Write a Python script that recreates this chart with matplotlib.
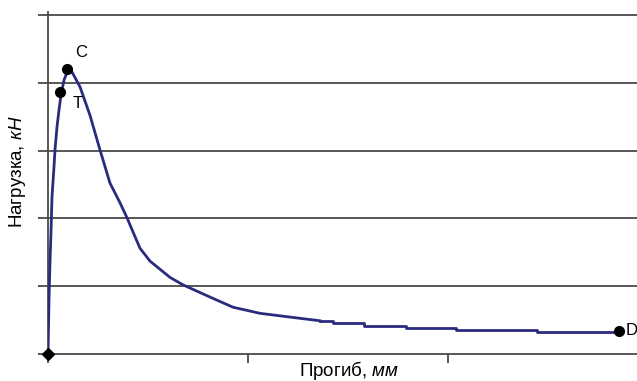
import matplotlib.pyplot as plt

plt.rcParams['font.family'] = ['Liberation Sans', 'DejaVu Sans']
plt.rcParams['mathtext.fontset'] = 'custom'
plt.rcParams['mathtext.rm'] = 'Liberation Sans'
plt.rcParams['mathtext.it'] = 'Liberation Sans:italic'

# кривая нагрузка-прогиб
curve_x = [0.0, 0.005, 0.01, 0.015, 0.02, 0.03, 0.035, 0.045, 0.055, 0.065, 0.08, 0.10,
           0.12, 0.16, 0.21, 0.26, 0.31, 0.36, 0.395, 0.425, 0.46, 0.51, 0.56, 0.61,
           0.675, 0.81, 0.925, 1.06, 1.195, 1.36]
curve_y = [0.0, 0.80, 1.36, 1.80, 2.32, 2.76, 3.01, 3.35, 3.60, 3.82, 4.04, 4.19,
           4.16, 3.94, 3.52, 3.01, 2.52, 2.23, 2.01, 1.80, 1.56, 1.37, 1.25, 1.13,
           1.02, 0.84, 0.69, 0.60, 0.55, 0.49]
# ступенчатый "хвост"
tail_x = [1.36, 1.425, 1.58, 1.79, 2.04, 2.445, 2.855]
tail_y = [0.49, 0.46, 0.41, 0.38, 0.35, 0.32, 0.32]

# характерные точки
pt_names = ['C', 'T', 'D']
pt_x = [0.095, 0.06, 2.855]
pt_y = [4.20, 3.86, 0.34]
origin_x, origin_y = 0.0, 0.0

y_ticks = [0, 1, 2, 3, 4, 5]
x_ticks = [0, 1, 2]

line_color = '#2b2b7e'
grid_color = '#4a4a4a'

fig = plt.figure(figsize=(6.37, 3.81), dpi=100)
ymax = 5.05
ax = fig.add_axes([48 / 637, 27 / 381, 1 - 48 / 637, (339 / 381) * ymax / 5])
ax.set_xlim(0, 2.945)
ax.set_ylim(0, ymax)

for yv in y_ticks[1:]:
    ax.axhline(yv, color=grid_color, lw=1.3, zorder=1)

ax.plot(curve_x, curve_y, color=line_color, lw=2.0, zorder=3)
ax.plot(tail_x, tail_y, color=line_color, lw=2.0, drawstyle='steps-post', zorder=3)

ax.plot(pt_x, pt_y, 'o', color='black', ms=7, zorder=4)
ax.plot(origin_x, origin_y, 'D', color='black', ms=6, zorder=4, clip_on=False)

ax.annotate(pt_names[0], (pt_x[0], pt_y[0]), xytext=(6, 12), textcoords='offset points',
            ha='left', va='center', fontsize=12)
ax.annotate(pt_names[1], (pt_x[1], pt_y[1]), xytext=(9, -8), textcoords='offset points',
            ha='left', va='center', fontsize=12)
ax.annotate(pt_names[2], (pt_x[2], pt_y[2]), xytext=(5, 0), textcoords='offset points',
            ha='left', va='center', fontsize=12, annotation_clip=False)

for s in ['top', 'right']:
    ax.spines[s].set_visible(False)
for s in ['left', 'bottom']:
    ax.spines[s].set_color(grid_color)
    ax.spines[s].set_linewidth(1.3)

ax.set_yticks(y_ticks)
ax.set_xticks(x_ticks)
ax.set_yticklabels([])
ax.set_xticklabels([])
ax.tick_params(axis='y', direction='out', length=7, width=1.3, color=grid_color)
ax.tick_params(axis='x', direction='out', length=6.5, width=1.3, color=grid_color)

fig.text(349 / 637, 1 - 370 / 381, r'Прогиб, $\mathit{мм}$', ha='center', va='center', fontsize=13.5)
fig.text(18 / 637, 1 - 172 / 381, r'Нагрузка, $\mathit{кН}$', ha='center', va='center',
         rotation=90, fontsize=13.5)

fig.savefig('out.png', dpi=100)
